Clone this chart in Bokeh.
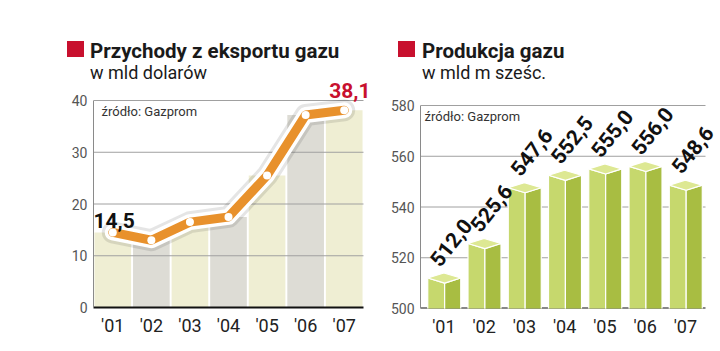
from bokeh.plotting import figure
from bokeh.layouts import row, column
from bokeh.models import Range1d, FixedTicker, Label, LabelSet, ColumnDataSource, Div
from bokeh.embed import file_html
from bokeh.resources import INLINE
from bokeh.core.properties import value

years = ["'01", "'02", "'03", "'04", "'05", "'06", "'07"]
export_revenue = [14.5, 13.0, 16.5, 17.5, 25.5, 37.2, 38.1]
production = [512.0, 525.6, 547.6, 552.5, 555.0, 556.0, 548.6]
export_ticks = [0, 10, 20, 30, 40]
production_ticks = [500, 520, 540, 560, 580]

FONT = "Roboto"
RED = "#c8102e"
GRID = "#a0a0a0"
HEAD_H = 80  # height of the heading block above the plots


def fmt(v):
    return f"{v:.1f}".replace(".", ",")


xs = list(range(len(years)))


def base_fig(width, bl, br, bb, xr, yr, ticks):
    p = figure(width=width, height=351 - HEAD_H, x_range=xr, y_range=yr,
               output_backend="svg", toolbar_location=None,
               min_border_left=bl, min_border_right=br,
               min_border_top=0, min_border_bottom=bb, margin=(0, 0, 0, 0))
    p.outline_line_color = None
    p.grid.visible = False
    p.background_fill_color = "white"
    p.xaxis.ticker = FixedTicker(ticks=xs)
    p.xaxis.major_label_overrides = {i: y for i, y in enumerate(years)}
    p.xaxis.major_tick_line_color = None
    p.xaxis.minor_tick_line_color = None
    p.xaxis.major_tick_out = 0
    p.xaxis.major_label_text_font = FONT
    p.xaxis.major_label_text_font_size = "18px"
    p.xaxis.major_label_text_color = "#222222"
    p.xaxis.major_label_standoff = 7
    p.yaxis.ticker = FixedTicker(ticks=ticks)
    p.yaxis.bounds = (ticks[0], ticks[-1])
    p.yaxis.major_tick_line_color = None
    p.yaxis.minor_tick_line_color = None
    p.yaxis.major_tick_out = 0
    p.yaxis.major_label_text_font = FONT
    p.yaxis.major_label_text_font_size = "14px"
    p.yaxis.major_label_text_color = "#555555"
    p.yaxis.major_label_standoff = 6
    p.yaxis.axis_line_color = "#8a8a8a"
    return p


def heading(width, title, subtitle, sq_left, text_left):
    html = (
        f'<div style="position:relative;width:{width}px;height:{HEAD_H}px;font-family:Roboto;color:#1a1a1a;">'
        f'<div style="position:absolute;left:{sq_left}px;top:41px;width:17px;height:16px;background:{RED};"></div>'
        f'<div style="position:absolute;left:{text_left}px;top:39px;font-size:20.5px;font-weight:bold;'
        f'line-height:24px;white-space:nowrap;">{title}</div>'
        f'<div style="position:absolute;left:{text_left}px;top:62px;font-size:18px;'
        f'line-height:21px;white-space:nowrap;">{subtitle}</div>'
        '</div>'
    )
    return Div(text=html, width=width, height=HEAD_H, margin=(0, 0, 0, 0),
               styles={"overflow": "visible"})


# ---------------- left chart: export revenue ----------------
# frame: canvas x 93..370 (columns end at 363), y 80..307 (0 at 307, 40 at 100)
x1_lo, x1_hi = -0.5, 6.5
y1_end = export_ticks[-1] * (307 - HEAD_H) / (307 - 100)
x1_end = x1_hi + (370 - 363) * (x1_hi - x1_lo) / (363 - 93)
p1 = base_fig(370, 93, 0, 44, Range1d(x1_lo, x1_end), Range1d(export_ticks[0], y1_end), export_ticks)
p1.xaxis.bounds = (x1_lo, x1_hi)
col_colors = ["#efeed3" if i % 2 == 0 else "#dddcd5" for i in xs]
p1.vbar(x=xs, top=export_revenue, bottom=0, width=0.95, fill_color=col_colors, line_color=None)
p1.segment(x0=x1_lo, x1=x1_hi, y0=export_ticks[1:], y1=export_ticks[1:], line_color=GRID, line_width=1)
p1.xaxis.axis_line_color = "#111111"
p1.xaxis.axis_line_width = 2
p1.line(xs, export_revenue, line_color="#000000", line_alpha=0.10, line_width=22,
        line_join="round", line_cap="round")
p1.line(xs, export_revenue, line_color="white", line_width=16, line_join="round", line_cap="round")
p1.line(xs, export_revenue, line_color="#e8912c", line_width=9, line_join="round", line_cap="round")
p1.scatter(xs, export_revenue, size=8, fill_color="white", line_color=None)
p1.add_layout(Label(x=xs[0] - 0.5, y=export_revenue[0] + 2.3, text=fmt(export_revenue[0]),
                    text_font=FONT, text_font_size="21px", text_font_style="bold",
                    text_color="#111111", text_baseline="alphabetic", text_align="left"))
p1.add_layout(Label(x=xs[-1] + 0.68, y=export_revenue[-1] + 3.8, text=fmt(export_revenue[-1]),
                    text_font=FONT, text_font_size="21px", text_font_style="bold",
                    text_color=RED, text_baseline="alphabetic", text_align="right"))
p1.add_layout(Label(x=x1_lo, y=export_ticks[-1], x_offset=8, y_offset=-11, text="źródło: Gazprom",
                    text_font=FONT, text_font_size="13px", text_color="#333333",
                    text_baseline="alphabetic"))

# ---------------- right chart: production ----------------
# frame: canvas x 420..720 (grid ends at 705), y 80..308 (500 at 308, 580 at 105)
x2_lo, x2_hi = -0.58, 6.5
y2_end = production_ticks[0] + (production_ticks[-1] - production_ticks[0]) * (308 - HEAD_H) / (308 - 105)
x2_end = x2_hi + (720 - 705) * (x2_hi - x2_lo) / (705 - 420)
p2 = base_fig(350, 50, 0, 43, Range1d(x2_lo, x2_end), Range1d(production_ticks[0], y2_end), production_ticks)
p2.xaxis.axis_line_color = None
p2.segment(x0=x2_lo, x1=x2_hi, y0=production_ticks[1:], y1=production_ticks[1:], line_color=GRID, line_width=1)
p2.segment(x0=x2_lo, x1=x2_hi, y0=production_ticks[0], y1=production_ticks[0], line_color="#111111", line_width=2)

base = production_ticks[0]
d = 2.0
front_x, front_y, side_x, side_y, top_x, top_y = [], [], [], [], [], []
for i, v in zip(xs, production):
    L, C, R, B = i - 0.40, i + 0.02, i + 0.42, i + 0.0
    front_x.append([L, L, C, C]); front_y.append([base - 1, v, v - d, base - d])
    side_x.append([C, C, R, R]); side_y.append([base - d, v - d, v, base - 1])
    top_x.append([L, C, R, B]); top_y.append([v, v - d, v, v + d])
p2.patches(front_x, front_y, fill_color="#c6d86d", line_color="white", line_width=1.2)
p2.patches(side_x, side_y, fill_color="#a8bd42", line_color="white", line_width=1.2)
p2.patches(top_x, top_y, fill_color="#dde893", line_color="white", line_width=1.2)

lab_src = ColumnDataSource(dict(x=[i - 0.09 for i in xs], y=[v + 3.9 for v in production],
                                text=[fmt(v) for v in production]))
p2.add_layout(LabelSet(x="x", y="y", text="text", source=lab_src, angle=0.9,
                       text_font=value(FONT), text_font_size=value("21px"),
                       text_font_style=value("bold"), text_color=value("#111111"),
                       text_baseline=value("alphabetic"), text_align=value("left")))
p2.add_layout(Label(x=x2_lo, y=production_ticks[-1], x_offset=4, y_offset=-11, text="źródło: Gazprom",
                    text_font=FONT, text_font_size="13px", text_color="#333333",
                    text_baseline="alphabetic"))

left = column(heading(370, "Przychody z eksportu gazu", "w mld dolarów", 67, 90), p1,
              spacing=0, margin=(0, 0, 0, 0))
right = column(heading(350, "Produkcja gazu", "w mld m sześc.", 28, 52), p2,
               spacing=0, margin=(0, 0, 0, 0))
layout = row(left, right, spacing=0, margin=(0, 0, 0, 0))
open("out.html", "w").write(file_html(layout, INLINE))
